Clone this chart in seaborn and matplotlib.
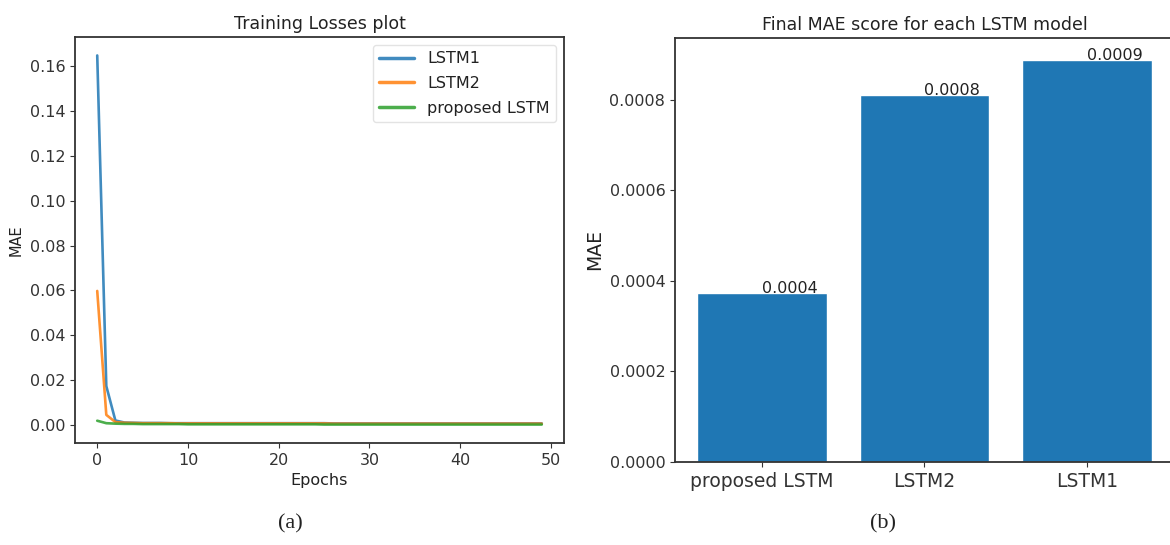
import matplotlib
matplotlib.use("Agg")
import matplotlib.pyplot as plt
import seaborn as sns
import numpy as np
import pandas as pd

# Per-epoch training MAE for each model
epochs = list(range(50))
lstm1_loss = [0.1645, 0.0175, 0.0022, 0.0013, 0.0012, 0.0011, 0.0011, 0.0011, 0.0010, 0.0010,
              0.0010, 0.0010, 0.0010, 0.0010, 0.0010, 0.0010, 0.0010, 0.0010, 0.0010, 0.0010,
              0.0010, 0.0010, 0.0010, 0.0010, 0.0010, 0.0010, 0.0009, 0.0009, 0.0009, 0.0009,
              0.0009, 0.0009, 0.0009, 0.0009, 0.0009, 0.0009, 0.0009, 0.0009, 0.0009, 0.0009,
              0.0009, 0.0009, 0.0009, 0.0009, 0.0009, 0.0009, 0.0009, 0.0009, 0.0009, 0.0009]
lstm2_loss = [0.0598, 0.0047, 0.0015, 0.0012, 0.0011, 0.0010, 0.0010, 0.0010, 0.0010, 0.0009,
              0.0009, 0.0009, 0.0009, 0.0009, 0.0009, 0.0009, 0.0009, 0.0009, 0.0009, 0.0009,
              0.0009, 0.0009, 0.0009, 0.0009, 0.0009, 0.0009, 0.0008, 0.0008, 0.0008, 0.0008,
              0.0008, 0.0008, 0.0008, 0.0008, 0.0008, 0.0008, 0.0008, 0.0008, 0.0008, 0.0008,
              0.0008, 0.0008, 0.0008, 0.0008, 0.0008, 0.0008, 0.0008, 0.0008, 0.0008, 0.0008]
proposed_loss = [0.0021, 0.0010, 0.0008, 0.0007, 0.0007, 0.0006, 0.0006, 0.0006, 0.0006, 0.0006,
                 0.0005, 0.0005, 0.0005, 0.0005, 0.0005, 0.0005, 0.0005, 0.0005, 0.0005, 0.0005,
                 0.0005, 0.0005, 0.0005, 0.0005, 0.0005, 0.0004, 0.0004, 0.0004, 0.0004, 0.0004,
                 0.0004, 0.0004, 0.0004, 0.0004, 0.0004, 0.0004, 0.0004, 0.0004, 0.0004, 0.0004,
                 0.0004, 0.0004, 0.0004, 0.0004, 0.0004, 0.0004, 0.0004, 0.0004, 0.0004, 0.0004]

# Final MAE per model
models = ["proposed LSTM", "LSTM2", "LSTM1"]
final_mae = [0.000373, 0.000811, 0.000887]

sns.set_style("ticks")
plt.rcParams["font.family"] = ["DejaVu Sans"]
plt.rcParams["axes.edgecolor"] = "#333333"
plt.rcParams["axes.linewidth"] = 1.3
plt.rcParams["xtick.color"] = "#333333"
plt.rcParams["ytick.color"] = "#333333"
plt.rcParams["text.color"] = "#222222"
plt.rcParams["axes.labelcolor"] = "#222222"

fig = plt.figure(figsize=(11.7, 5.45), dpi=100)
W, H = 1170, 545
ax1 = fig.add_axes([75 / W, 1 - 443 / H, (564 - 75) / W, (443 - 37) / H])
ax2 = fig.add_axes([675 / W, 1 - 462 / H, (1174 - 675) / W, (462 - 38) / H])

# (a) training losses
palette = ["#1f77b4", "#ff7f0e", "#2ca02c"]
series = [("LSTM1", lstm1_loss), ("LSTM2", lstm2_loss), ("proposed LSTM", proposed_loss)]
for (name, vals), c in zip(series, palette):
    sns.lineplot(x=epochs, y=vals, ax=ax1, color=c, label=name, linewidth=1.9, alpha=0.85)
ax1.margins(x=0.05, y=0.05)
ax1.set_xticks([0, 10, 20, 30, 40, 50])
ax1.set_yticks([0.00, 0.02, 0.04, 0.06, 0.08, 0.10, 0.12, 0.14, 0.16])
ax1.set_yticklabels([f"{v:.2f}" for v in ax1.get_yticks()])
ax1.tick_params(labelsize=11.5)
ax1.set_title("Training Losses plot", fontsize=12.5)
ax1.set_xlabel("Epochs", fontsize=11.5)
ax1.set_ylabel("MAE", fontsize=10.5)
leg = ax1.legend(loc="upper right", fontsize=11.5, frameon=True, handlelength=2.2,
                 labelspacing=0.6, borderaxespad=0.5)
leg.get_frame().set_edgecolor("#dddddd")
for line in leg.get_lines():
    line.set_linewidth(2.5)

# (b) final MAE per model
df = pd.DataFrame({"model": models, "mae": final_mae})
sns.barplot(data=df, x="model", y="mae", ax=ax2, color="#1f77b4", saturation=1, width=0.8)
ax2.set_xlim(-0.536, 2.536)
ax2.set_ylim(0, max(final_mae) * 1.055)
ax2.set_yticks([0.0, 0.0002, 0.0004, 0.0006, 0.0008])
ax2.set_yticklabels([f"{v:.4f}" for v in ax2.get_yticks()])
ax2.tick_params(axis="y", labelsize=11.5)
ax2.tick_params(axis="x", labelsize=13.5)
for i, v in enumerate(final_mae):
    ax2.text(i, v, f"{round(v, 4)}", fontsize=11.5)
ax2.set_title("Final MAE score for each LSTM model", fontsize=12.5)
ax2.set_xlabel("")
ax2.set_ylabel("MAE", fontsize=13.5)

# panel captions
fig.text(290 / W, 1 - 524 / H, "(a)", family="Liberation Serif", fontsize=16, ha="center", va="center")
fig.text(883 / W, 1 - 524 / H, "(b)", family="Liberation Serif", fontsize=16, ha="center", va="center")

fig.savefig("out.png", dpi=100)
